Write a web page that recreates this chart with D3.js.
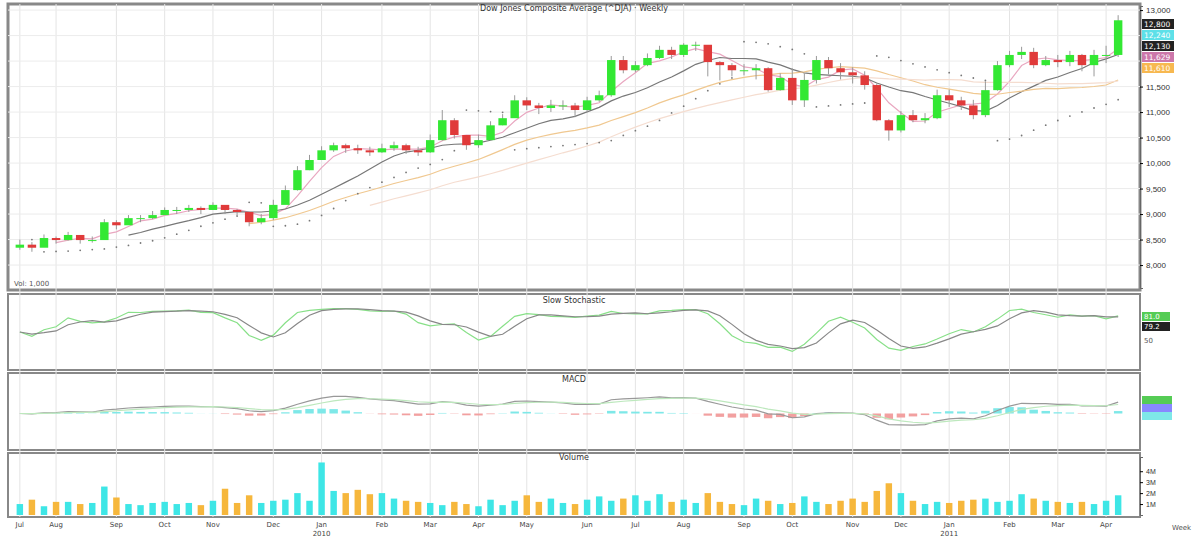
<!DOCTYPE html>
<html><head><meta charset="utf-8">
<script src="https://cdn.jsdelivr.net/npm/d3@7"></script>
<style>body{margin:0;background:#fff;font-family:"DejaVu Sans",sans-serif}</style>
</head><body><div id="chart"></div>
<script>
// weekly closes, highs, lows (index points)
const closes = [8400,8340,8530,8490,8590,8490,8490,8840,8780,8920,8920,8980,9080,9080,9120,9080,9180,9080,9040,8840,8920,9180,9470,9860,10060,10250,10350,10290,10250,10210,10290,10350,10250,10210,10450,10840,10550,10350,10450,10740,10880,11230,11130,11080,11130,11130,11040,11230,11330,12020,11820,11920,12060,12220,12120,12320,12320,11980,11920,11820,11820,11860,11430,11670,11230,11630,12020,11860,11780,11720,11530,10840,10640,10940,10840,10880,11330,11230,11130,10940,11430,11920,12120,12180,11920,12020,11980,12120,11920,12120,12120,12800];
const highs  = [8500,8450,8600,8560,8650,8560,8560,8900,8880,8980,8980,9060,9130,9140,9180,9150,9230,9170,9100,8980,9000,9280,9560,9940,10160,10330,10400,10380,10360,10320,10380,10420,10380,10320,10560,11040,10880,10500,10560,10820,10960,11330,11290,11180,11240,11230,11180,11300,11420,12100,12100,12000,12150,12300,12280,12350,12380,12300,12000,11960,11940,11940,11880,11760,11860,11760,12100,12080,11960,11880,11800,11560,10860,11020,11040,10980,11440,11440,11300,11240,11600,12000,12200,12280,12260,12100,12120,12200,12140,12220,12300,12900];
const lows   = [8300,8260,8400,8420,8480,8420,8440,8700,8700,8840,8840,8900,9000,9000,9040,9000,9080,9000,8960,8760,8800,8880,9200,9460,9860,10060,10220,10200,10180,10140,10200,10240,10180,10140,10200,10440,10480,10260,10300,10440,10740,10900,11040,10960,11000,11040,10900,11000,11200,11300,11760,11780,11900,12040,12040,12080,12200,11700,11620,11700,11720,11640,11400,11420,11140,11100,11560,11740,11640,11560,11440,10820,10440,10600,10800,10780,10860,11100,11040,10860,10900,11420,11880,12040,11860,11900,11880,11900,11800,11700,11960,12080];
const volumes = [1.0,1.4,0.8,1.2,1.2,1.0,1.1,2.6,1.6,1.0,0.9,1.1,1.2,1.0,1.1,0.9,1.3,2.4,1.1,1.8,1.1,1.3,1.4,2.0,1.3,4.8,2.2,2.0,2.3,1.9,2.0,1.5,1.3,1.2,1.1,0.9,1.2,1.0,0.8,1.4,0.9,1.3,1.8,1.2,1.5,1.1,1.0,1.4,1.7,1.3,1.5,1.8,1.3,1.9,1.2,1.4,1.1,2.0,1.2,1.0,0.9,1.5,1.3,1.0,1.1,1.7,1.2,1.0,1.3,1.5,1.2,2.2,2.9,2.0,1.3,1.0,1.2,1.1,1.3,1.4,1.5,1.2,1.3,1.9,1.5,1.3,1.2,1.1,1.2,1.0,1.3,1.8];
const priceTicks = [8000,8500,9000,9500,10000,10500,11000,11500,12000,12500,13000];
const monthLabels = ["Jan","Feb","Mar","Apr","May","Jun","Jul","Aug","Sep","Oct","Nov","Dec"];
const chartTitle = "Dow Jones Composite Average (^DJA) · Weekly";

const W = 1200, H = 539, left = 8, right = 1140;
const panes = {main:[4,290], sto:[294,370], macd:[373,450], vol:[453,517]};
const n = closes.length;
const opens = closes.map((c,i) => i ? closes[i-1] : c - 60);
const dates = d3.timeWeek.range(new Date(2009,6,6), new Date(2012,6,1)).slice(0,n);

const svg = d3.select("#chart").append("svg").attr("width",W).attr("height",H);
svg.append("rect").attr("width",W).attr("height",H).attr("fill","#fff");

const x = d3.scaleBand().domain(d3.range(n)).range([left+4,right-14]).padding(0.3);
const cx = i => x(i) + x.bandwidth()/2;

Object.entries(panes).forEach(([k,[y0,y1]]) => {
  svg.append("rect").attr("x",left).attr("y",y0).attr("width",right-left).attr("height",y1-y0)
    .attr("fill","#fff").attr("stroke","#888").attr("stroke-width",k==="main"?3:2);
});
const monthIdx = d3.range(n).filter(i => i===0 || dates[i].getMonth()!==dates[i-1].getMonth());
svg.append("g").selectAll("line").data(monthIdx).join("line")
  .attr("x1",cx).attr("x2",cx).attr("y1",panes.main[0]).attr("y2",panes.vol[1])
  .attr("stroke","#e4e4e4");

// main pane
const y = d3.scaleLinear().domain([7550,13080]).range([panes.main[1]-2,panes.main[0]+2]);
svg.append("g").selectAll("line").data(priceTicks).join("line")
  .attr("x1",left).attr("x2",right).attr("y1",y).attr("y2",y).attr("stroke","#ececec");

function sma(p){return closes.map((c,i)=> i<p-1 ? null : d3.mean(closes.slice(i-p+1,i+1)));}
const tagDefs = [[closes[n-1],"#222"],[sma(4)[n-1],"#5ee0e8"],[sma(10)[n-1],"#222"],[sma(20)[n-1],"#c7a"],[sma(30)[n-1],"#f7b850"]];
const tagY = tagDefs.map((t,k)=>24+k*11);
svg.append("g").attr("transform",`translate(${right},0)`)
  .call(d3.axisRight(y).tickValues(priceTicks.filter(v=>y(v)<18||y(v)>tagY[tagY.length-1]+8)).tickFormat(d3.format(",")).tickSize(3))
  .call(g=>g.select(".domain").attr("stroke","#666"))
  .call(g=>g.selectAll("text").attr("font-size",8).attr("fill","#333"));

const maDefs = [[4,"#e9a7c0"],[10,"#777"],[20,"#f0c890"],[30,"#f5ddd0"]];
maDefs.forEach(([p,col]) => {
  const s = sma(p);
  svg.append("path").datum(d3.range(n).filter(i=>s[i]!=null))
    .attr("d", d3.line().x(cx).y(i=>y(s[i]))).attr("fill","none").attr("stroke",col).attr("stroke-width",1.2);
});
// parabolic SAR
const sar=[]; let up=true, ep=highs[0], af=0.02, s0=lows[0];
for(let i=0;i<n;i++){
  if(i>0){ s0 = s0 + af*(ep-s0);
    if(up && lows[i]<s0){up=false;s0=ep;ep=lows[i];af=0.02;}
    else if(!up && highs[i]>s0){up=true;s0=ep;ep=highs[i];af=0.02;}
    else { if(up&&highs[i]>ep){ep=highs[i];af=Math.min(0.2,af+0.02);} if(!up&&lows[i]<ep){ep=lows[i];af=Math.min(0.2,af+0.02);} }
  }
  sar.push(s0);
}
svg.append("g").selectAll("circle").data(d3.range(1,n)).join("circle")
  .attr("cx",cx).attr("cy",i=>y(sar[i])).attr("r",0.9).attr("fill","#777");

const candles = svg.append("g").selectAll("g").data(d3.range(n)).join("g");
candles.append("line").attr("x1",cx).attr("x2",cx).attr("y1",i=>y(highs[i])).attr("y2",i=>y(lows[i])).attr("stroke","#999");
candles.append("rect").attr("x",i=>x(i)).attr("width",x.bandwidth())
  .attr("y",i=>y(Math.max(opens[i],closes[i]))).attr("height",i=>Math.max(1,Math.abs(y(opens[i])-y(closes[i]))))
  .attr("fill",i=>closes[i]>=opens[i]?"#33e833":"#e03a3a");
svg.append("text").attr("x",(left+right)/2).attr("y",11).attr("text-anchor","middle")
  .attr("font-size",8).attr("fill","#333").text(chartTitle);
svg.append("text").attr("x",14).attr("y",286).attr("font-size",7).attr("fill","#555").text("Vol: 1,000");
tagDefs.forEach(([v,c],k)=>{
  const ty = tagY[k];
  svg.append("rect").attr("x",right+2).attr("y",ty-5).attr("width",32).attr("height",10).attr("fill",c);
  svg.append("text").attr("x",right+4).attr("y",ty+3).attr("font-size",7.5).attr("fill","#fff").text(d3.format(",.0f")(v));
});

// stochastic
const kRaw = d3.range(n).map(i=>{const a=Math.max(0,i-8);const hh=d3.max(highs.slice(a,i+1)),ll=d3.min(lows.slice(a,i+1));return 100*(closes[i]-ll)/(hh-ll||1);});
const smooth=(arr,p)=>arr.map((v,i)=>d3.mean(arr.slice(Math.max(0,i-p+1),i+1)));
const kS = smooth(kRaw,3), dS = smooth(kS,3);
const ys = d3.scaleLinear().domain([0,100]).range([panes.sto[1]-12,panes.sto[0]+12]);
[[kS,"#88e088"],[dS,"#888"]].forEach(([s,c])=>svg.append("path").datum(d3.range(n))
  .attr("d",d3.line().x(cx).y(i=>ys(s[i]))).attr("fill","none").attr("stroke",c).attr("stroke-width",1.2));
svg.append("text").attr("x",(left+right)/2).attr("y",panes.sto[0]+9).attr("text-anchor","middle").attr("font-size",8).attr("fill","#333").text("Slow Stochastic");
svg.append("rect").attr("x",right+2).attr("y",312).attr("width",28).attr("height",9).attr("fill","#5c5");
svg.append("text").attr("x",right+4).attr("y",319).attr("font-size",7).attr("fill","#fff").text(d3.format(".1f")(kS[n-1]));
svg.append("rect").attr("x",right+2).attr("y",322).attr("width",28).attr("height",9).attr("fill","#222");
svg.append("text").attr("x",right+4).attr("y",329).attr("font-size",7).attr("fill","#fff").text(d3.format(".1f")(dS[n-1]));
svg.append("text").attr("x",right+4).attr("y",343).attr("font-size",7).attr("fill","#555").text("50");

// MACD
const ema=(arr,p)=>{const k=2/(p+1);const o=[];arr.forEach((v,i)=>o.push(i?v*k+o[i-1]*(1-k):v));return o;};
const e12=ema(closes,6), e26=ema(closes,13);
const macd=closes.map((c,i)=>e12[i]-e26[i]), sig=ema(macd,5), hist=macd.map((m,i)=>m-sig[i]);
const ym = d3.scaleLinear().domain([-700,700]).range([panes.macd[1]-4,panes.macd[0]+8]);
svg.append("g").selectAll("rect").data(d3.range(n)).join("rect")
  .attr("x",i=>x(i)).attr("width",x.bandwidth()).attr("y",i=>ym(Math.max(0,hist[i]))).attr("height",i=>Math.abs(ym(hist[i])-ym(0)))
  .attr("fill",i=>hist[i]>=0?"#7ee8e8":"#f2a0a0");
[[macd,"#999"],[sig,"#bde8bd"]].forEach(([s,c])=>svg.append("path").datum(d3.range(n))
  .attr("d",d3.line().x(cx).y(i=>ym(s[i]))).attr("fill","none").attr("stroke",c).attr("stroke-width",1.2));
svg.append("text").attr("x",(left+right)/2).attr("y",panes.macd[0]+9).attr("text-anchor","middle").attr("font-size",8).attr("fill","#333").text("MACD");
[["#5c5",396],["#88f",404],["#7ee8e8",412]].forEach(([c,ty])=>svg.append("rect").attr("x",right+2).attr("y",ty).attr("width",30).attr("height",8).attr("fill",c));

// volume
const yv = d3.scaleLinear().domain([0,5.3]).range([panes.vol[1]-2,panes.vol[0]+4]);
svg.append("g").selectAll("rect").data(d3.range(n)).join("rect")
  .attr("x",i=>x(i)+1).attr("width",x.bandwidth()-2).attr("y",i=>yv(volumes[i])).attr("height",i=>yv(0)-yv(volumes[i]))
  .attr("fill",i=>closes[i]>=opens[i]?"#3ee6e6":"#f6b73c");
svg.append("g").attr("transform",`translate(${right},0)`)
  .call(d3.axisRight(yv).tickValues([1,2,3,4]).tickFormat(d=>d+"M").tickSize(3))
  .call(g=>g.select(".domain").attr("stroke","#666"))
  .call(g=>g.selectAll("text").attr("font-size",7).attr("fill","#333"));
svg.append("text").attr("x",(left+right)/2).attr("y",panes.vol[0]+7).attr("text-anchor","middle").attr("font-size",8).attr("fill","#333").text("Volume");

svg.append("g").selectAll("text").data(monthIdx).join("text")
  .attr("x",cx).attr("y",527).attr("text-anchor","middle").attr("font-size",7).attr("fill","#444")
  .text(i=>monthLabels[dates[i].getMonth()]);
svg.append("g").selectAll("text").data(monthIdx.filter(i=>dates[i].getMonth()===0)).join("text")
  .attr("x",cx).attr("y",536).attr("text-anchor","middle").attr("font-size",7).attr("fill","#444")
  .text(i=>dates[i].getFullYear());
svg.append("text").attr("x",1172).attr("y",530).attr("font-size",7).attr("fill","#555").text("Week");
</script></body></html>
